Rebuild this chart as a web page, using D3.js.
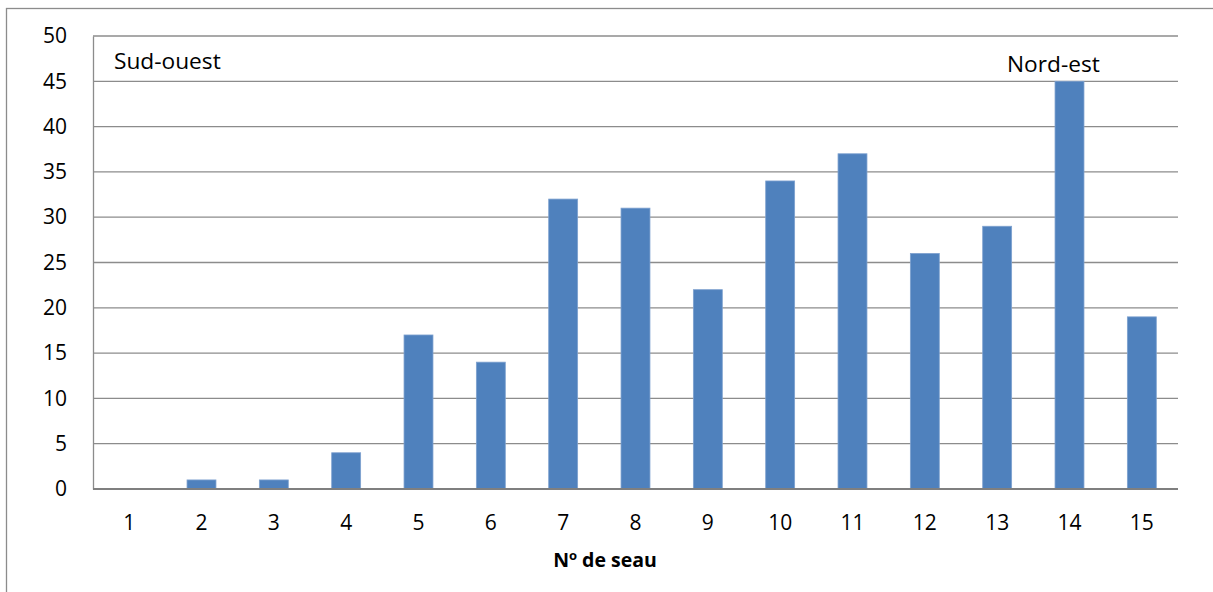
<!DOCTYPE html>
<html>
<head>
<meta charset="utf-8">
<script src="https://cdn.jsdelivr.net/npm/d3@7"></script>
<style>
  html, body { margin: 0; padding: 0; background: #fff; }
  svg { display: block; }
  text { font-family: "Open Sans", "Liberation Sans", sans-serif; fill: #000; }
</style>
</head>
<body>
<svg id="chart" width="1213" height="592"></svg>
<script>
// Bucket numbers along the transect and the count collected in each
const buckets = [1, 2, 3, 4, 5, 6, 7, 8, 9, 10, 11, 12, 13, 14, 15];
const counts  = [0, 1, 1, 4, 17, 14, 32, 31, 22, 34, 37, 26, 29, 45, 19];
const yTicks  = [0, 5, 10, 15, 20, 25, 30, 35, 40, 45, 50];

const svg = d3.select("#chart");
const plot = { left: 93, right: 1178, top: 36, bottom: 489 };

// Chart frame (runs off the right and bottom edges)
svg.append("rect")
  .attr("x", 6.5).attr("y", 8.5)
  .attr("width", 1230).attr("height", 620)
  .attr("fill", "none").attr("stroke", "#8c8c8c").attr("stroke-width", 1.3);

const x = d3.scaleBand()
  .domain(buckets)
  .range([plot.left, plot.right])
  .paddingInner(0.6).paddingOuter(0.3);

const y = d3.scaleLinear().domain([0, 50]).range([plot.bottom, plot.top]);

// Horizontal gridlines
svg.append("g")
  .selectAll("line")
  .data(yTicks.filter(d => d > 0))
  .join("line")
  .attr("x1", plot.left).attr("x2", plot.right)
  .attr("y1", d => y(d)).attr("y2", d => y(d))
  .attr("stroke", "#8c8c8c").attr("stroke-width", 1.3);

// Bars
svg.append("g")
  .selectAll("rect")
  .data(buckets.map((b, i) => ({ b, v: counts[i] })))
  .join("rect")
  .attr("x", d => x(d.b))
  .attr("width", x.bandwidth())
  .attr("y", d => y(d.v))
  .attr("height", d => y(0) - y(d.v))
  .attr("fill", "#4f81bd")
  .attr("stroke", d => d.v > 0 ? "#7ea1cf" : "none")
  .attr("stroke-width", 0.8);

// Y axis
const yAxis = svg.append("g")
  .attr("transform", `translate(${plot.left},0)`)
  .call(d3.axisLeft(y).tickValues(yTicks).tickSize(0).tickPadding(26));
yAxis.select(".domain").attr("stroke", "#8c8c8c").attr("stroke-width", 1.3);
yAxis.selectAll("text")
  .style("font-size", "21px")
  .style("font-family", "'Open Sans', sans-serif")
  .attr("fill", "#000");

// X axis
const xAxis = svg.append("g")
  .attr("transform", `translate(0,${plot.bottom})`)
  .call(d3.axisBottom(x).tickSize(0).tickPadding(26));
xAxis.select(".domain").attr("stroke", "#7f7f7f").attr("stroke-width", 2)
  .attr("d", `M${plot.left},0H${plot.right}`);
xAxis.selectAll("text")
  .style("font-size", "21px")
  .style("font-family", "'Open Sans', sans-serif")
  .attr("fill", "#000");

// Axis title
const title = svg.append("text")
  .attr("x", 605).attr("y", 567)
  .attr("text-anchor", "middle")
  .style("font-size", "19.5px").style("font-weight", "bold");
title.append("tspan").text("N");
title.append("tspan").text("o").attr("dy", -7).style("font-size", "13px");
title.append("tspan").text(" de seau").attr("dy", 7);

// Orientation labels
svg.append("text").attr("x", 114).attr("y", 69)
  .style("font-size", "22.7px").text("Sud-ouest");
svg.append("text").attr("x", 1007).attr("y", 72)
  .style("font-size", "22.7px").text("Nord-est");
</script>
</body>
</html>
